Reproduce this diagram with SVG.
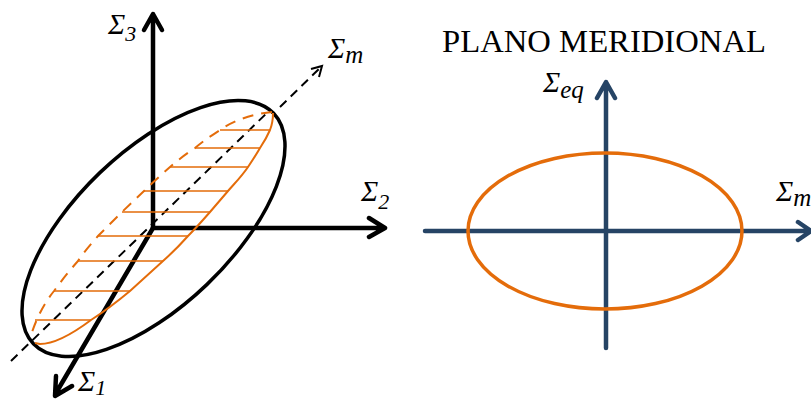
<svg xmlns="http://www.w3.org/2000/svg" width="811" height="401" viewBox="0 0 811 401">
<style>
.bk{fill:none;stroke:#000;stroke-width:4.5;stroke-linecap:round;stroke-linejoin:round}
.bl{fill:none;stroke:#264465;stroke-width:4.5;stroke-linecap:round;stroke-linejoin:round}
.or{fill:none;stroke:#e46c0a;stroke-width:1.6}
.lab{font-family:"Liberation Serif",serif;font-style:italic;font-size:29px;fill:#000}
.sub{font-family:"Liberation Serif",serif;font-style:italic;font-size:25px;fill:#000}
.num{font-family:"Liberation Serif",serif;font-size:22px;fill:#000}
.ttl{font-family:"Liberation Serif",serif;font-size:31px;fill:#000}
</style>
<g id="connectors">
<path d="M11 361L270 110" fill="none" stroke="#000" stroke-width="2" stroke-dasharray="9 6"/>
<path d="M280 107L321 67" fill="none" stroke="#000" stroke-width="2" stroke-dasharray="9 6"/>
<path d="M311 69L322 66L319 77" fill="none" stroke="#000" stroke-width="2"/>
<path class="bk" d="M153 228V15M144 30L153 14L162 30"/>
<path class="bk" d="M153 228H384M369 218L385 228L369 237"/>
<path class="bk" d="M153 228L56 393M56 376L55 396L72 386"/>
<path class="bl" d="M606 348V83M597 98L606 82L615 98"/>
<path class="bl" d="M425 231H811M798 222L811 231L798 240"/>
</g>
<g id="ellipse-principal"><ellipse cx="153.500" cy="228.500" rx="166.400" ry="77.400" transform="rotate(-43.800 153.500 228.500)" class="bk" style="stroke-width:3.500"/></g>
<g id="section">
<path class="or" style="stroke-width:2" d="M273 113C273 120 272 125 270 130C267 137 264 142 260 148C256 155 252 161 248 167C242 176 235 183 228 191C222 198 216 205 210 212C203 220 196 228 188 236C180 245 172 253 163 261C152 271 141 281 130 291C118 301 105 311 91 320C75 332 55 344 40 344L35 343"/>
<path class="or" style="stroke-width:2" stroke-dasharray="11 8" d="M272 112C254 114 236 119 220 130C211 136 203 141 195 148C186 154 178 160 170 167C161 175 152 183 144 191L122 212C114 220 106 228 98 236C91 244 84 252 78 261C70 270 62 280 54 291C46 301 38 314 31 335"/>
<path class="or" d="M220 130H270M195 148H260M170 167H248M144 191H228M122 212H210M98 236H188M78 261H163M54 291H130M35 320H91"/>
</g>
<g id="ellipse-meridional"><ellipse cx="605" cy="231" rx="137" ry="78" fill="none" stroke="#e46c0a" stroke-width="3.500"/></g>
<g id="labels">
<text class="lab" x="108" y="34">Σ<tspan class="num" dy="7">3</tspan></text>
<text class="lab" x="328" y="58">Σ<tspan class="sub" dy="5">m</tspan></text>
<text class="lab" x="361" y="201">Σ<tspan class="num" dy="8">2</tspan></text>
<text class="lab" x="78" y="391">Σ<tspan class="num" dy="4">1</tspan></text>
<text class="lab" x="543" y="92">Σ<tspan class="sub" dy="6">eq</tspan></text>
<text class="lab" x="776" y="201">Σ<tspan class="sub" dy="5">m</tspan></text>
<text class="ttl" x="442" y="52" textLength="324" lengthAdjust="spacingAndGlyphs">PLANO MERIDIONAL</text>
</g>
</svg>
